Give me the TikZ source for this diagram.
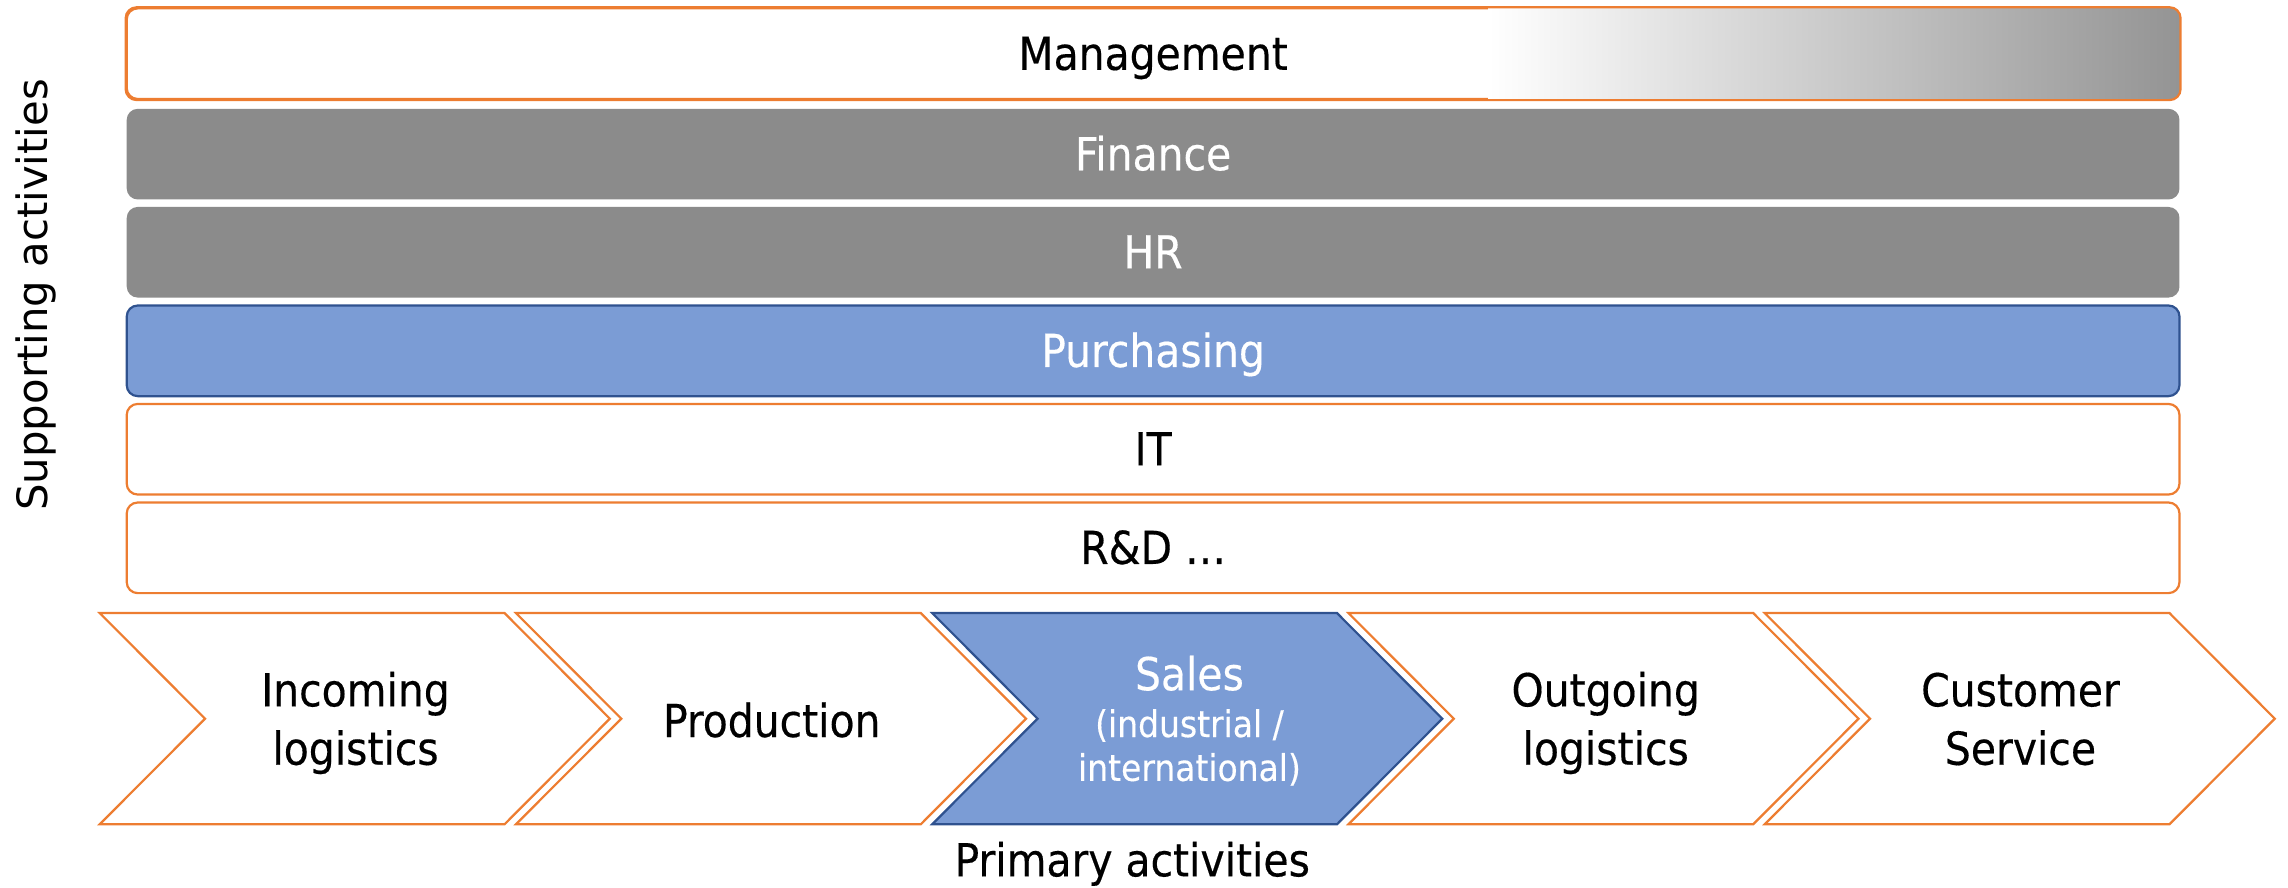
\documentclass[tikz,border=0pt]{standalone}
\usepackage{fontspec}
\setmainfont{DejaVu Sans Condensed}[FakeBold=0.35]
\newfontfamily\supfont{DejaVu Sans}
\definecolor{orng}{HTML}{ED7D31}
\definecolor{greyf}{HTML}{8B8B8B}
\definecolor{gradr}{HTML}{939393}
\definecolor{bluef}{HTML}{7B9CD5}
\definecolor{blued}{HTML}{2F528F}
\begin{document}
\begin{tikzpicture}[x=1pt,y=-1pt,
  rowbox/.style={rounded corners=7.5pt, minimum width=1399.6pt, minimum height=61.8pt,
    inner sep=0pt, text height=22pt, text depth=0pt, font=\fontsize{31}{36}\selectfont},
  orangerow/.style={rowbox, draw=orng, line width=1.5pt, fill=white},
  greyrow/.style={rowbox, fill=greyf, text=white},
  bluerow/.style={rowbox, draw=blued, line width=1.5pt, fill=bluef, text=white},
  ochev/.style={draw=orng, line width=1.5pt, fill=white},
  bchev/.style={draw=blued, line width=1.5pt, fill=bluef},
  ctext/.style={anchor=base, inner sep=0pt, font=\fontsize{31}{36}\selectfont},
  stext/.style={anchor=base, inner sep=0pt, font=\fontsize{25}{30}\selectfont, text=white}]
\useasboundingbox (0,0) rectangle (1560,605);

% supporting activities
\node[orangerow] (mgmt) at (786.2,36.6) {Management};
\begin{scope}
  \clip[rounded corners=7.5pt] (mgmt.south west) rectangle (mgmt.north east);
  \shade[left color=white, right color=gradr] (1015,0) rectangle (1490,80);
\end{scope}
\draw[orng, line width=1.5pt, rounded corners=7.5pt] (mgmt.south west) rectangle (mgmt.north east);
\node[greyrow] (fin) at (786.2,105.1) {Finance};
\node[greyrow] (hr) at (786.2,172) {HR};
\node[bluerow] (pur) at (786.2,239.2) {Purchasing};
\node[orangerow] (it) at (786.2,306.3) {IT};
\node[orangerow] (rd) at (786.2,373.5) {R\&D …};

\node[anchor=base, rotate=90, inner sep=0pt, font=\supfont\fontsize{28.5}{32}\selectfont] (sup) at (32.3,201) {Supporting activities};

% primary activities chevrons
\foreach \xl/\st in {68/ochev, 351.8/ochev, 635.6/bchev, 919.4/ochev, 1203.2/ochev}
  \draw[\st] (\xl,418) -- ++(276,0) -- ++(71.8,72) -- ++(-71.8,72) -- ++(-276,0) -- ++(71.8,-72) -- cycle;

\node[ctext] (inc1) at (242.4,481.6) {Incoming};
\node[ctext] (inc2) at (242.4,521.4) {logistics};
\node[ctext] (prod) at (526.2,502.5) {Production};
\node[ctext, text=white] (sal1) at (811,470.6) {Sales};
\node[stext] (sal2) at (811,502.5) {(industrial /};
\node[stext] (sal3) at (811,532.4) {international)};
\node[ctext] (out1) at (1094.8,481.6) {Outgoing};
\node[ctext] (out2) at (1094.8,521.4) {logistics};
\node[ctext] (cus1) at (1377.6,481.6) {Customer};
\node[ctext] (cus2) at (1377.6,521.4) {Service};

\node[ctext] (prim) at (772,597.5) {Primary activities};
\end{tikzpicture}
\end{document}
